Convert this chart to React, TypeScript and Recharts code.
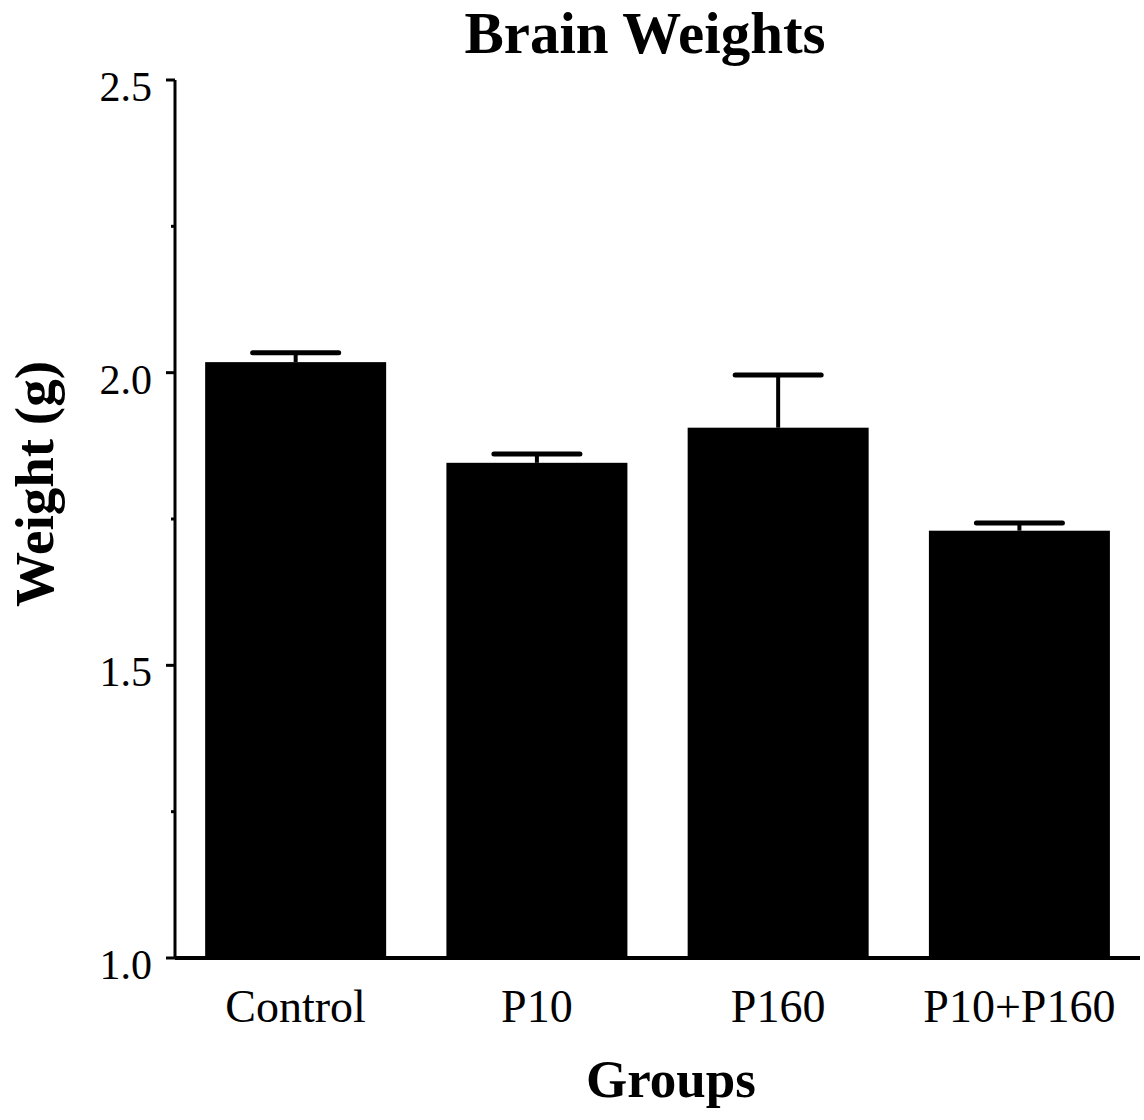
import React from 'react';
import { BarChart, Bar, XAxis, YAxis, Label } from 'recharts';

const groups = ['Control', 'P10', 'P160', 'P10+P160'];
const weights = [2.018, 1.846, 1.906, 1.73];
const errors = [0.016, 0.015, 0.09, 0.013];
const yTicks = [1.0, 1.25, 1.5, 1.75, 2.0, 2.25, 2.5];
const Y_MIN = 1.0;
const Y_MAX = 2.5;

const data = groups.map((g, i) => ({ group: g, weight: weights[i], error: errors[i] }));

const FONT = '"Liberation Serif", "Times New Roman", serif';

const BarWithError = (props: any) => {
  const { x, y, width, height, payload } = props;
  const ppu = height / (payload.weight - Y_MIN);
  const ey = y - payload.error * ppu;
  const cx = x + width / 2;
  return (
    <g>
      <rect x={x} y={y} width={width} height={height} fill="#000" />
      <line x1={cx} y1={y} x2={cx} y2={ey} stroke="#000" strokeWidth={4} />
      <line x1={cx - 43} y1={ey} x2={cx + 43} y2={ey} stroke="#000" strokeWidth={5} strokeLinecap="round" />
    </g>
  );
};

const YTick = (props: any) => {
  const { x, y, payload } = props;
  const v = payload.value as number;
  const major = Math.abs(v * 2 - Math.round(v * 2)) < 1e-6;
  return (
    <g>
      <line x1={x - (major ? 9 : 4)} y1={y} x2={x} y2={y} stroke="#000" strokeWidth={3} />
      {major && (
        <text x={x - 23} y={y + 21} textAnchor="end" fontFamily={FONT} fontSize={42} fill="#000">
          {v.toFixed(1)}
        </text>
      )}
    </g>
  );
};

const XTick = (props: any) => {
  const { x, y, payload } = props;
  return (
    <text x={x} y={y + 64} textAnchor="middle" fontFamily={FONT} fontSize={46} fill="#000">
      {payload.value}
    </text>
  );
};

export default function App() {
  return (
    <div style={{ position: 'absolute', left: 0, top: 0, width: 1144, height: 1120 }}>
      <BarChart
        width={1144}
        height={1120}
        data={data}
        margin={{ top: 80, right: 4, bottom: 72, left: 0 }}
        barCategoryGap="12.5%"
      >
        <XAxis
          dataKey="group"
          height={90}
          tickLine={false}
          tickSize={0}
          tickMargin={0}
          axisLine={{ stroke: '#000', strokeWidth: 4 }}
          tick={<XTick />}
          interval={0}
        >
          <Label
            content={() => (
              <g>
                <text x={671} y={1097} textAnchor="middle" fontFamily={FONT} fontWeight="bold" fontSize={53} fill="#000">
                  Groups
                </text>
                <text x={645} y={53} textAnchor="middle" fontFamily={FONT} fontWeight="bold" fontSize={59} fill="#000">
                  Brain Weights
                </text>
              </g>
            )}
          />
        </XAxis>
        <YAxis
          width={175}
          domain={[Y_MIN, Y_MAX]}
          ticks={yTicks}
          interval={0}
          tickLine={false}
          tickSize={0}
          tickMargin={0}
          axisLine={{ stroke: '#000', strokeWidth: 3 }}
          tick={<YTick />}
          allowDataOverflow
        >
          <Label
            content={() => (
              <text
                x={53}
                y={484}
                transform="rotate(-90 53 484)"
                textAnchor="middle"
                fontFamily={FONT}
                fontWeight="bold"
                fontSize={55}
                fill="#000"
              >
                Weight (g)
              </text>
            )}
          />
        </YAxis>
        <Bar dataKey="weight" fill="#000" isAnimationActive={false} shape={<BarWithError />} />
      </BarChart>
    </div>
  );
}
